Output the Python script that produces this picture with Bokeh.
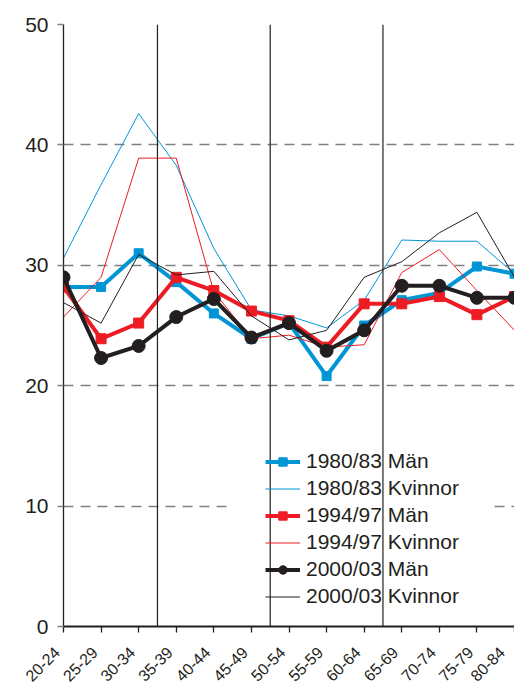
import math
from bokeh.plotting import figure
from bokeh.models import Range1d, FixedTicker, Legend, LegendItem, Span, Grid
from bokeh.embed import file_html
from bokeh.resources import INLINE

# ---- data ----
age_groups = ["20-24", "25-29", "30-34", "35-39", "40-44", "45-49", "50-54",
              "55-59", "60-64", "65-69", "70-74", "75-79", "80-84"]
men_1980 = [28.2, 28.2, 31.0, 28.6, 26.0, 23.9, 25.2, 20.8, 25.0, 27.1, 27.7, 29.9, 29.3]
women_1980 = [30.6, 36.7, 42.6, 38.3, 31.4, 26.3, 25.8, 24.8, 27.1, 32.1, 32.0, 32.0, 29.3]
men_1994 = [28.2, 23.9, 25.2, 29.0, 27.9, 26.2, 25.4, 23.2, 26.8, 26.8, 27.4, 25.9, 27.4]
women_1994 = [25.7, 29.0, 38.9, 38.9, 27.8, 23.9, 24.2, 23.2, 23.4, 29.4, 31.3, 27.9, 24.6]
men_2000 = [29.0, 22.3, 23.3, 25.7, 27.2, 24.0, 25.2, 22.9, 24.6, 28.3, 28.3, 27.3, 27.3]
women_2000 = [26.9, 25.2, 30.9, 29.2, 29.5, 25.8, 23.8, 24.6, 29.0, 30.3, 32.7, 34.4, 29.0]
y_ticks = [0, 10, 20, 30, 40, 50]
full_grid = [20, 30, 40, 50]
split_grid = [10]
separators = [2.5, 5.5, 8.5]

x = list(range(len(age_groups)))

BLUE = "#0096d6"
RED = "#ed1c24"
BLACK = "#231f20"
GRAY = "#808080"
FONT = "Liberation Sans"
PAD = "\u00a0\u00a0"  # shifts the rotated labels down-left, as in the original

p = figure(width=514, height=693, x_range=Range1d(0, len(age_groups) - 1),
           y_range=Range1d(0, 50), output_backend="svg", toolbar_location=None,
           min_border_left=63, min_border_right=0, min_border_top=24,
           min_border_bottom=66)
p.outline_line_color = None
p.background_fill_color = "white"

# axes
p.xaxis.ticker = FixedTicker(ticks=x)
p.xaxis.major_label_overrides = {i: c + PAD for i, c in enumerate(age_groups)}
p.xaxis.major_label_orientation = math.pi / 4
p.xaxis.major_label_text_font = FONT
p.xaxis.major_label_text_font_size = "16px"
p.xaxis.major_label_text_color = BLACK
p.xaxis.major_label_standoff = 11
p.xaxis.major_tick_out = 6
p.xaxis.major_tick_in = 0
p.xaxis.major_tick_line_color = BLACK
p.xaxis.major_tick_line_width = 1.3
p.xaxis.minor_tick_line_color = None
p.xaxis.axis_line_color = BLACK
p.xaxis.axis_line_width = 2

p.yaxis.ticker = FixedTicker(ticks=y_ticks)
p.yaxis.major_label_text_font = FONT
p.yaxis.major_label_text_font_size = "21px"
p.yaxis.major_label_text_color = BLACK
p.yaxis.major_label_standoff = 9
p.yaxis.major_tick_out = 6
p.yaxis.major_tick_in = 0
p.yaxis.major_tick_line_color = GRAY
p.yaxis.major_tick_line_width = 1.3
p.yaxis.minor_tick_line_color = None
p.yaxis.axis_line_color = BLACK
p.yaxis.axis_line_width = 1.3

p.xgrid.grid_line_color = None
p.ygrid.ticker = FixedTicker(ticks=full_grid)
g0 = p.ygrid[0]
g0.grid_line_color = GRAY
g0.grid_line_width = 1.3
g0.grid_line_dash = "10 7"
# the 10-line is interrupted behind the legend
for b in [(0, 4.36), (11.47, 12)]:
    p.add_layout(Grid(dimension=1, ticker=FixedTicker(ticks=split_grid), cross_bounds=b,
                      grid_line_color=GRAY, grid_line_width=1.3, grid_line_dash="10 7"))

# series
r1l = p.line(x, men_1980, line_color=BLUE, line_width=4, line_join="miter")
r1m = p.scatter(x, men_1980, marker="square", size=9, fill_color=BLUE, line_color=BLUE)
r2 = p.line(x, women_1980, line_color=BLUE, line_width=1)
r3l = p.line(x, men_1994, line_color=RED, line_width=4, line_join="miter")
r3m = p.scatter(x, men_1994, marker="square", size=10, fill_color=RED, line_color=RED)
r4 = p.line(x, women_1994, line_color=RED, line_width=1)
r5l = p.line(x, men_2000, line_color=BLACK, line_width=4, line_join="miter")
r5m = p.scatter(x, men_2000, marker="circle", size=13, fill_color=BLACK, line_color=BLACK)
r6 = p.line(x, women_2000, line_color=BLACK, line_width=1)

legend = Legend(items=[
    LegendItem(label="1980/83 Män", renderers=[r1l, r1m]),
    LegendItem(label="1980/83 Kvinnor", renderers=[r2]),
    LegendItem(label="1994/97 Män", renderers=[r3l, r3m]),
    LegendItem(label="1994/97 Kvinnor", renderers=[r4]),
    LegendItem(label="2000/03 Män", renderers=[r5l, r5m]),
    LegendItem(label="2000/03 Kvinnor", renderers=[r6]),
], location=(202, 18), padding=0, margin=0, spacing=3, glyph_width=35,
   glyph_height=21, label_height=21, label_standoff=6, label_text_font=FONT,
   label_text_font_size="21px", label_text_color=BLACK,
   background_fill_alpha=0, border_line_color=None)
p.add_layout(legend, "center")

for s in separators:
    p.add_layout(Span(location=s, dimension="height", line_color=BLACK, line_width=1.2))

open("out.html", "w").write(file_html(p, INLINE))
